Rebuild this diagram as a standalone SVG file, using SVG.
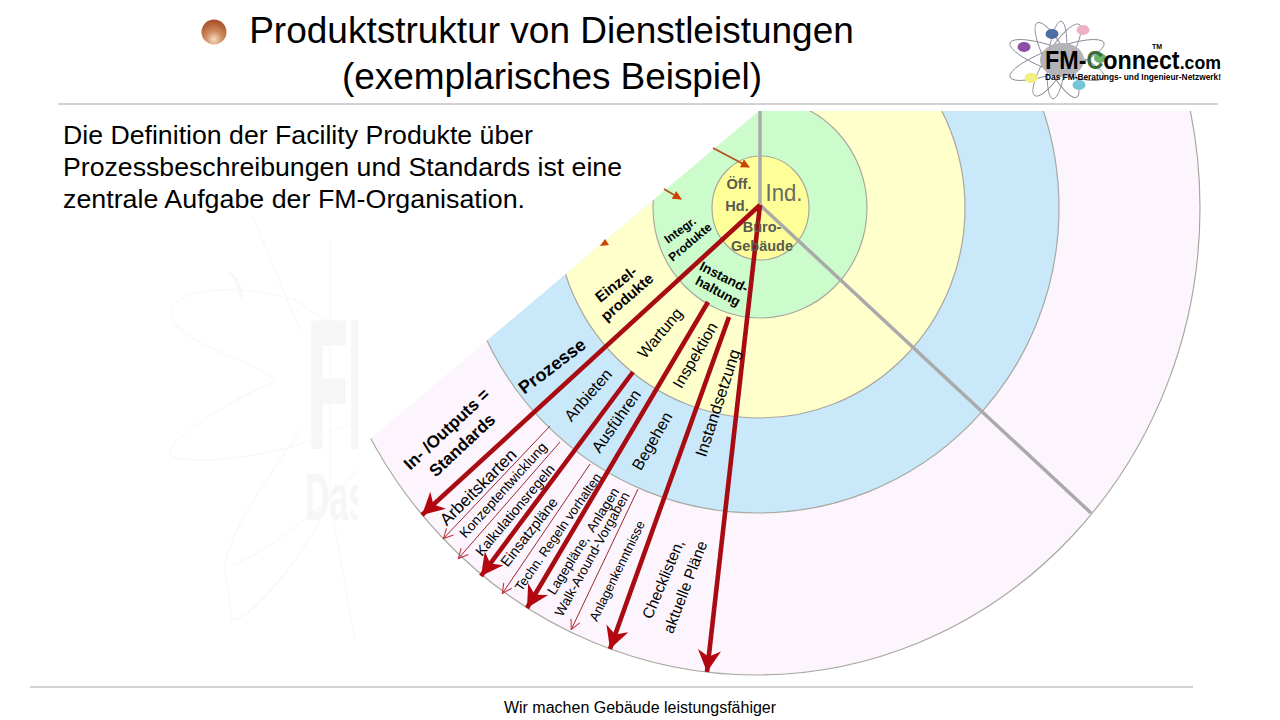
<svg xmlns="http://www.w3.org/2000/svg" width="1280" height="720" viewBox="0 0 1280 720">
<defs>
<clipPath id="wedge"><polygon points="759,111 1280,111 1280,720 37,720"/></clipPath>
<clipPath id="wm"><rect x="0" y="200" width="358" height="480"/></clipPath>
<radialGradient id="ball" cx="0.5" cy="0.8" r="0.75"><stop offset="0" stop-color="#f6dcc4"/><stop offset="0.45" stop-color="#cf8a5e"/><stop offset="1" stop-color="#a9502c"/></radialGradient>
<marker id="hb" viewBox="0 0 10 10" refX="9" refY="5" markerWidth="5.6" markerHeight="5.6" orient="auto" markerUnits="strokeWidth"><path d="M0.5 0.5L9 5L0.5 9.5L3 5Z" fill="#b5060f"/></marker>
<marker id="ht" viewBox="0 0 10 10" refX="9.5" refY="5" markerWidth="12" markerHeight="12" orient="auto" markerUnits="strokeWidth"><path d="M1 1L9 5L1 9" fill="none" stroke="#c8323c" stroke-width="0.9"/></marker>
<marker id="ho" viewBox="0 0 10 10" refX="9" refY="5" markerWidth="5" markerHeight="5" orient="auto" markerUnits="strokeWidth"><path d="M0 0L10 5L0 10Z" fill="#cc4400"/></marker>
</defs>
<style>
text{font-family:"Liberation Sans",Arial,sans-serif;fill:#000}
.ring{stroke:#a8a8a0;stroke-width:1.2}
.lbl{text-anchor:middle}
.b{font-weight:700}
.core{font-weight:700;fill:#5a5a50;text-anchor:middle;font-size:14.5px}
.thick{stroke:#a80c12;stroke-width:4.6;fill:none;marker-end:url(#hb)}
.thin{stroke:#9c2a30;stroke-width:1;fill:none;marker-end:url(#ht)}
.orange{stroke:#b5531f;stroke-width:1.8;fill:none;marker-end:url(#ho)}
.spoke{stroke:#aaaaaa;stroke-width:3.5;fill:none}
.orbit{fill:none;stroke:#8a8a96;stroke-width:0.9}
.wmk{fill:none;stroke:#f7f7f7;stroke-width:1.2}
.wmt{fill:#f6f6f6;font-weight:700}
</style>

<g id="watermark" clip-path="url(#wm)">
<path class="wmk" d="M252 215L300 330M340 330L295 300C230 280 160 290 173 320C190 350 260 360 275 382C230 400 165 440 170 455C180 465 260 460 310 440L350 425M300 430L260 490C240 520 222 560 225 570L232 620C250 620 300 560 320 520M233 565C270 550 320 510 358 470M330 240L330 300V500L355 640"/>
<path d="M225 270C240 275 245 290 242 305C238 285 232 275 225 270Z" fill="#f8f8f8"/>
<text class="wmt" x="308" y="447" font-size="180" stroke="#f6f6f6" stroke-width="5" stroke-linejoin="round" textLength="94" lengthAdjust="spacingAndGlyphs">FM</text>
<text class="wmt" x="305" y="520" font-size="66" textLength="62" lengthAdjust="spacingAndGlyphs">Das</text>
</g>

<g id="title">
<circle cx="214" cy="32" r="12.5" fill="url(#ball)"/>
<text class="lbl" x="551.5" y="43" font-size="37">Produktstruktur von Dienstleistungen</text>
<text class="lbl" x="552" y="89" font-size="37" textLength="420" lengthAdjust="spacing">(exemplarisches Beispiel)</text>
</g>
<g id="logo">
<g transform="translate(1057 60)">
<ellipse class="orbit" rx="50" ry="12" transform="rotate(20)"/>
<ellipse class="orbit" rx="50" ry="12" transform="rotate(-20)"/>
<ellipse class="orbit" rx="42" ry="11" transform="rotate(62)"/>
<ellipse class="orbit" rx="42" ry="11" transform="rotate(-58)"/>
<ellipse class="orbit" rx="39" ry="9" transform="rotate(-84)"/>
</g>
<ellipse cx="1062" cy="60" rx="22" ry="17" fill="#b4b4b8"/>
<ellipse cx="1024" cy="47" rx="6.5" ry="5" fill="#8a4fa6"/>
<ellipse cx="1052" cy="34" rx="6.5" ry="5" fill="#4d6fa5"/>
<ellipse cx="1083" cy="30" rx="6.5" ry="5" fill="#eeb0c4"/>
<ellipse cx="1100" cy="58" rx="6" ry="5" fill="#6cb266"/>
<ellipse cx="1031" cy="78" rx="6.5" ry="5" fill="#f2ee80"/>
<ellipse cx="1079" cy="85" rx="6.5" ry="5" fill="#74c6d6"/>
<text x="1045" y="69" font-size="25" font-weight="700" textLength="176" lengthAdjust="spacingAndGlyphs">FM-<tspan style="fill:#3a6b3a">C</tspan>onnect<tspan font-size="19">.com</tspan></text>
<text x="1152" y="49" font-size="7" font-weight="700">TM</text>
<text x="1045" y="80" font-size="9.5" font-weight="700" textLength="176" lengthAdjust="spacingAndGlyphs">Das FM-Beratungs- und Ingenieur-Netzwerk!</text>
</g>
<g id="rules">
<line x1="58" y1="104" x2="1218" y2="104" stroke="#a6a6a6" stroke-width="1.2"/>
<line x1="30" y1="687" x2="1193" y2="687" stroke="#a6a6a6" stroke-width="1.2"/>
</g>
<g id="intro" font-size="26.5">
<text x="63" y="144" textLength="470" lengthAdjust="spacingAndGlyphs">Die Definition der Facility Produkte über</text>
<text x="63" y="176" textLength="559" lengthAdjust="spacingAndGlyphs">Prozessbeschreibungen und Standards ist eine</text>
<text x="63" y="208" textLength="462" lengthAdjust="spacingAndGlyphs">zentrale Aufgabe der FM-Organisation.</text>
</g>

<g id="rings" clip-path="url(#wedge)">
<ellipse id="ring-standards" class="ring" cx="756.5" cy="208" rx="443.5" ry="467" fill="#fdf5fd"/>
<ellipse id="ring-prozesse" class="ring" cx="758" cy="208" rx="301" ry="305" fill="#c9e8fa"/>
<ellipse id="ring-einzel" class="ring" cx="760" cy="208" rx="205" ry="210" fill="#ffffcc"/>
<ellipse id="ring-integr" class="ring" cx="760" cy="208" rx="107" ry="110" fill="#ccfccc"/>
<ellipse id="ring-core" class="ring" cx="760.5" cy="208" rx="48.5" ry="52" fill="#ffff99"/>
</g>

<g id="connectors">
<path class="spoke" d="M760 111V205L1091 513"/>
<path class="orange" d="M713 148L749 167"/>
<path class="orange" d="M664 189L681 199"/>
<path d="M600 246L605 239L609 245Z" fill="#cc4400"/>
<path class="thin" d="M550 426L443 539"/>
<path class="thin" d="M560 442L458 559"/>
<path class="thin" d="M590 464L502 594"/>
<path class="thin" d="M638 489L571 630"/>
<path class="thick" d="M760 205L422 515"/>
<path class="thick" d="M633 372L481 576"/>
<path class="thick" d="M708 302L527 608"/>
<path class="thick" d="M729 317L610 649"/>
<path class="thick" d="M760 205L707 672"/>
</g>

<g id="core-labels">
<text class="core" x="739" y="189">Öff.</text>
<text class="core" x="737" y="211">Hd.</text>
<text x="784" y="201" font-size="24" text-anchor="middle" textLength="37" lengthAdjust="spacingAndGlyphs" style="fill:#6b6b60">Ind.</text>
<text class="core" x="762" y="232">Büro-</text>
<text class="core" x="762" y="251">Gebäude</text>
</g>
<g id="labels" class="lbl">
<text class="b" font-size="12" transform="translate(680 230) rotate(-36)" dy=".35em">Integr.</text>
<text class="b" font-size="12" transform="translate(690 242) rotate(-40)" dy=".35em">Produkte</text>
<text class="b" font-size="13.5" transform="translate(724 277) rotate(27)" dy=".35em">Instand-</text>
<text class="b" font-size="13.5" transform="translate(718 291) rotate(28)" dy=".35em">haltung</text>
<text class="b" font-size="15" transform="translate(616 284) rotate(-38)" dy=".35em">Einzel-</text>
<text class="b" font-size="15" transform="translate(627 297) rotate(-41)" dy=".35em">produkte</text>
<text font-size="16" transform="translate(660 333) rotate(-50)" dy=".35em">Wartung</text>
<text font-size="16" transform="translate(695 355) rotate(-60)" dy=".35em">Inspektion</text>
<text font-size="16.5" transform="translate(717.5 403) rotate(-72)" dy=".35em">Instandsetzung</text>
<text class="b" font-size="18" transform="translate(552 366) rotate(-37)" dy=".35em">Prozesse</text>
<text font-size="16" transform="translate(588 395) rotate(-49)" dy=".35em">Anbieten</text>
<text font-size="16" transform="translate(616 421) rotate(-55)" dy=".35em">Ausführen</text>
<text font-size="16" transform="translate(652 441) rotate(-60)" dy=".35em">Begehen</text>
<text class="b" font-size="17" transform="translate(446.5 429) rotate(-43)" dy=".35em">In- /Outputs =</text>
<text class="b" font-size="17" transform="translate(462 445) rotate(-43)" dy=".35em">Standards</text>
<text font-size="17" transform="translate(478 487) rotate(-45)" dy=".35em">Arbeitskarten</text>
<text font-size="13.8" transform="translate(503 490) rotate(-48)" dy=".35em">Konzeptentwicklung</text>
<text font-size="14" transform="translate(515 510) rotate(-50)" dy=".35em">Kalkulationsregeln</text>
<text font-size="14.5" transform="translate(529 532) rotate(-52)" dy=".35em">Einsatzpläne</text>
<text font-size="13" transform="translate(558 532) rotate(-55)" dy=".35em">Techn. Regeln vorhalten</text>
<text font-size="13.5" transform="translate(583 541) rotate(-58)" dy=".35em" xml:space="preserve">Lagepläne,  Anlagen</text>
<text font-size="13.5" transform="translate(592 554) rotate(-61)" dy=".35em">Walk-Around-Vorgaben</text>
<text font-size="13" transform="translate(617 571) rotate(-64)" dy=".35em">Anlagenkenntnisse</text>
<text font-size="15.5" transform="translate(663 579) rotate(-67)" dy=".35em">Checklisten,</text>
<text font-size="15.5" transform="translate(685 587) rotate(-69)" dy=".35em">aktuelle Pläne</text>
</g>
<g id="footer"><text class="lbl" x="640" y="713" font-size="16">Wir machen Gebäude leistungsfähiger</text></g>
</svg>
